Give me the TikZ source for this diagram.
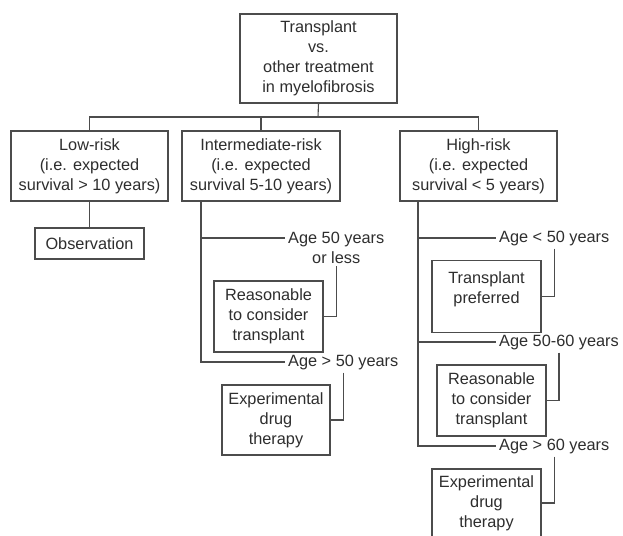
\documentclass[tikz,border=0pt]{standalone}
\usepackage{fontspec}
\setmainfont{Liberation Sans}
\definecolor{inkgray}{gray}{0.18}
\definecolor{linegray}{gray}{0.3}

\begin{document}
\begin{tikzpicture}[x=1pt,y=-1pt,
  box/.style={draw=linegray,line width=1.1pt,text=inkgray,align=center,inner sep=0pt,
    font=\fontsize{16.3}{20}\selectfont},
  agelabel/.style={text=inkgray,align=center,inner sep=3pt,
    font=\fontsize{16.3}{20}\selectfont},
  link/.style={draw=linegray,line width=1.1pt}]
  \useasboundingbox[fill=white] (0,0) rectangle (623,535);

  % question at the top
  \node[box,minimum width=157pt,minimum height=89pt] (top) at (318.5,58.5)
    {Transplant\\vs.\\other treatment\\in myelofibrosis};
  \coordinate (split) at (318,117);

  % risk groups
  \node[box,minimum width=157pt,minimum height=70pt] (low) at (89.5,166)
    {Low-risk\\(i.e. expected\\survival > 10 years)};
  \node[box,minimum width=158pt,minimum height=70pt] (inter) at (261,166)
    {Intermediate-risk\\(i.e. expected\\survival 5-10 years)};
  \node[box,minimum width=157pt,minimum height=70pt] (high) at (478.5,166)
    {High-risk\\(i.e. expected\\survival < 5 years)};

  \draw[link] (top.south) -- (split);
  \draw[link] (low.north) |- (split) -| (high.north);
  \draw[link] (inter.north) -- (inter.north |- split);

  % low risk
  \node[box,minimum width=109pt,minimum height=31pt] (obs) at (89.5,243.5) {Observation};
  \draw[link] (low.south) -- (obs.north);

  % intermediate risk
  \coordinate (ib1) at (201,238);
  \coordinate (ib2) at (201,362);
  \node[agelabel,anchor=west] (ia1) at (285,247.5) {Age 50 years\\or less};
  \node[agelabel,anchor=west] (ia2) at (285,362) {Age > 50 years};
  \node[box,minimum width=109pt,minimum height=71pt] (ir) at (268.5,316.5)
    {Reasonable\\to consider\\transplant};
  \node[box,minimum width=108pt,minimum height=70pt] (ie) at (276,420)
    {Experimental\\drug\\therapy};

  \draw[link] (inter.south -| ib1) -- (ib2) -- (ia2.west |- ib2);
  \draw[link] (ib1) -- (ia1.west |- ib1);
  \draw[link] (ia1.south) |- (ir.east);
  \draw[link] (ia2.south) |- (ie.east);

  % high risk
  \coordinate (hb1) at (418,238);
  \coordinate (hb2) at (418,342);
  \coordinate (hb3) at (418,446);
  \node[agelabel,anchor=west] (ha1) at (496,238) {Age < 50 years};
  \node[agelabel,anchor=west] (ha2) at (496,342) {Age 50-60 years};
  \node[agelabel,anchor=west] (ha3) at (496,446) {Age > 60 years};
  \node[box,minimum width=109pt,text height=43pt,text depth=29pt,anchor=north] (htp)
    at (486.5,260) {Transplant\\preferred};
  \node[box,minimum width=109pt,minimum height=71pt] (hr) at (491.5,400.5)
    {Reasonable\\to consider\\transplant};
  \node[box,minimum width=109pt,minimum height=68pt] (he) at (486.5,503)
    {Experimental\\drug\\therapy};

  \draw[link] (high.south -| hb1) -- (hb3) -- (ha3.west |- hb3);
  \draw[link] (hb1) -- (ha1.west |- hb1);
  \draw[link] (hb2) -- (ha2.west |- hb2);
  \draw[link] (ha1.south) |- (htp.east);
  \draw[link] (ha2.south) |- (hr.east);
  \draw[link] (ha3.south) |- (he.east);
\end{tikzpicture}
\end{document}
